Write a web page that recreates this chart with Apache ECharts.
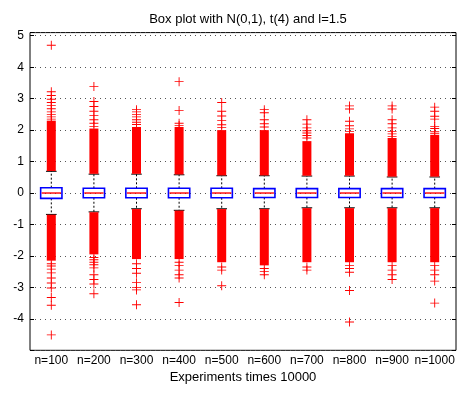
<!DOCTYPE html>
<html>
<head>
<meta charset="utf-8">
<script src="https://cdn.jsdelivr.net/npm/echarts@6/dist/echarts.min.js"></script>
<style>
  html, body { margin: 0; padding: 0; background: #fff; }
  #chart { width: 468px; height: 402px; }
</style>
</head>
<body>
<div id="chart"></div>
<script>
// box plot values
var categories = ['n=100', 'n=200', 'n=300', 'n=400', 'n=500', 'n=600', 'n=700', 'n=800', 'n=900', 'n=1000'];
var q1 = [-0.17, -0.15, -0.15, -0.15, -0.15, -0.14, -0.14, -0.14, -0.14, -0.14];
var medians = [0, 0, 0, 0, 0, 0, 0, 0, 0, 0];
var q3 = [0.17, 0.15, 0.15, 0.15, 0.15, 0.14, 0.14, 0.14, 0.14, 0.14];
var whiskerHigh = [0.69, 0.6, 0.6, 0.58, 0.55, 0.55, 0.54, 0.54, 0.51, 0.51];
var whiskerLow = [-0.68, -0.6, -0.5, -0.55, -0.5, -0.5, -0.47, -0.47, -0.47, -0.47];

// extent of the solid run of outliers next to each whisker
var denseHighTop = [2.3, 2.05, 2.1, 2.1, 2.0, 2.0, 1.65, 1.9, 1.75, 1.85];
var denseLowBottom = [-2.15, -1.95, -2.1, -2.1, -2.2, -2.3, -2.2, -2.2, -2.2, -2.2];

// single outliers beyond the solid runs
var outliersHigh = [
    [4.70, 3.22, 3.1, 2.98, 2.88, 2.78, 2.68, 2.58, 2.5, 2.42, 2.35],
    [3.39, 2.91, 2.75, 2.6, 2.46, 2.33, 2.22, 2.12],
    [2.65, 2.58, 2.5, 2.42, 2.33, 2.25, 2.18],
    [3.54, 2.62, 2.22, 2.15],
    [2.88, 2.6, 2.45, 2.31, 2.17, 2.08],
    [2.65, 2.55, 2.33, 2.2, 2.1],
    [2.33, 2.19, 2.07, 1.98, 1.91, 1.83, 1.75],
    [2.77, 2.67, 2.28, 2.14, 2.04, 1.96],
    [2.77, 2.67, 2.33, 2.2, 2.07, 1.96, 1.88, 1.8],
    [2.73, 2.6, 2.44, 2.35, 2.12, 2.05, 1.96, 1.9]
];
var outliersLow = [
    [-2.25, -2.32, -2.42, -2.54, -2.7, -2.86, -3.02, -3.32, -3.57, -4.51],
    [-2.05, -2.12, -2.2, -2.28, -2.38, -2.6, -2.75, -2.89, -3.2],
    [-2.25, -2.4, -2.55, -2.85, -3.0, -3.08, -3.55],
    [-2.2, -2.3, -2.45, -2.6, -2.7, -3.48],
    [-2.35, -2.45, -2.95],
    [-2.4, -2.5, -2.6],
    [-2.35, -2.45],
    [-2.3, -2.4, -2.52, -3.1, -4.1],
    [-2.3, -2.45, -2.6, -2.75],
    [-2.3, -2.45, -2.6, -2.8, -3.5]
];

var fontName = 'Liberation Sans';
var plusSymbol = 'path://M0,4.5H10V5.5H0Z M4.5,0H5.5V10H4.5Z';

var boxData = categories.map(function (c, i) {
    return [i, whiskerLow[i], q1[i], medians[i], q3[i], whiskerHigh[i]];
});

var bandData = [];
categories.forEach(function (c, i) {
    bandData.push([i, whiskerHigh[i] + 0.01, denseHighTop[i]]);
    bandData.push([i, denseLowBottom[i], whiskerLow[i] - 0.01]);
});

var outlierData = [];
categories.forEach(function (c, i) {
    outliersHigh[i].forEach(function (v) { outlierData.push([i, v]); });
    outliersLow[i].forEach(function (v) { outlierData.push([i, v]); });
});

function renderBox(params, api) {
    var i = api.value(0);
    var x = api.coord([i, 0])[0];
    var boxW = api.size([1, 0])[0] * 0.5;
    var capW = boxW * 0.5;
    var yLo = api.coord([i, api.value(1)])[1];
    var yQ1 = api.coord([i, api.value(2)])[1];
    var yMed = api.coord([i, api.value(3)])[1];
    var yQ3 = api.coord([i, api.value(4)])[1];
    var yHi = api.coord([i, api.value(5)])[1];
    var dashed = { stroke: '#000', lineWidth: 1, lineDash: [2, 2] };
    var solid = { stroke: '#000', lineWidth: 1 };
    return {
        type: 'group',
        children: [
            { type: 'line', shape: { x1: x, y1: yQ3, x2: x, y2: yHi }, style: dashed },
            { type: 'line', shape: { x1: x, y1: yQ1, x2: x, y2: yLo }, style: dashed },
            { type: 'line', shape: { x1: x - capW / 2, y1: yHi, x2: x + capW / 2, y2: yHi }, style: solid },
            { type: 'line', shape: { x1: x - capW / 2, y1: yLo, x2: x + capW / 2, y2: yLo }, style: solid },
            { type: 'rect', shape: { x: x - boxW / 2, y: yQ3, width: boxW, height: yQ1 - yQ3 },
              style: { fill: 'none', stroke: '#0000ff', lineWidth: 1.6 } },
            { type: 'line', shape: { x1: x - boxW / 2 + 1, y1: yMed, x2: x + boxW / 2 - 1, y2: yMed },
              style: { stroke: '#ff0000', lineWidth: 1.4 } }
        ]
    };
}

function renderBand(params, api) {
    var i = api.value(0);
    var x = api.coord([i, 0])[0];
    var yA = api.coord([i, api.value(1)])[1];
    var yB = api.coord([i, api.value(2)])[1];
    var w = 9;
    return {
        type: 'rect',
        shape: { x: x - w / 2, y: Math.min(yA, yB), width: w, height: Math.abs(yA - yB) },
        style: { fill: '#ff0000' }
    };
}

var chart = echarts.init(document.getElementById('chart'));
chart.setOption({
    animation: false,
    backgroundColor: '#fff',
    title: {
        text: 'Box plot with N(0,1), t(4) and l=1.5',
        left: 243,
        top: 8,
        textAlign: 'center',
        textStyle: { fontFamily: fontName, fontSize: 13, fontWeight: 'normal', color: '#000' }
    },
    grid: {
        left: 30,
        right: 12,
        top: 32.6,
        bottom: 51.7,
        show: true,
        borderColor: '#000',
        borderWidth: 1,
        backgroundColor: '#fff'
    },
    xAxis: {
        type: 'category',
        data: categories,
        boundaryGap: true,
        axisLine: { show: false },
        axisTick: { show: false },
        splitLine: { show: false },
        axisLabel: { fontFamily: fontName, fontSize: 12, color: '#000', margin: 4, interval: 0 },
        name: 'Experiments times 10000',
        nameLocation: 'middle',
        nameGap: 18,
        nameTextStyle: { fontFamily: fontName, fontSize: 13, color: '#000' }
    },
    yAxis: [
        {
            type: 'value',
            min: -5,
            max: 5.1,
            interval: 1,
            axisLine: { show: false },
            axisTick: { show: true, inside: true, length: 4, lineStyle: { color: '#000' } },
            splitLine: { show: true, lineStyle: { color: '#555', type: [1, 4], width: 1 } },
            axisLabel: {
                fontFamily: fontName, fontSize: 12, color: '#000', margin: 6,
                formatter: function (v) {
                    return (Math.abs(v - Math.round(v)) < 1e-6 && v > -4.5) ? String(Math.round(v)) : '';
                }
            }
        },
        {
            type: 'value',
            position: 'right',
            min: -5,
            max: 5.1,
            interval: 1,
            axisLine: { show: false },
            axisTick: { show: true, inside: true, length: 4, lineStyle: { color: '#000' } },
            splitLine: { show: false },
            axisLabel: { show: false }
        }
    ],
    series: [
        {
            type: 'custom',
            name: 'box',
            renderItem: renderBox,
            data: boxData,
            z: 2,
            encode: { x: 0, y: [1, 2, 3, 4, 5] }
        },
        {
            type: 'custom',
            name: 'dense',
            renderItem: renderBand,
            data: bandData,
            z: 3,
            encode: { x: 0, y: [1, 2] }
        },
        {
            type: 'scatter',
            name: 'outliers',
            data: outlierData,
            symbol: plusSymbol,
            symbolSize: 9,
            itemStyle: { color: '#ff0000', opacity: 1 },
            z: 4
        }
    ]
});
</script>
</body>
</html>
